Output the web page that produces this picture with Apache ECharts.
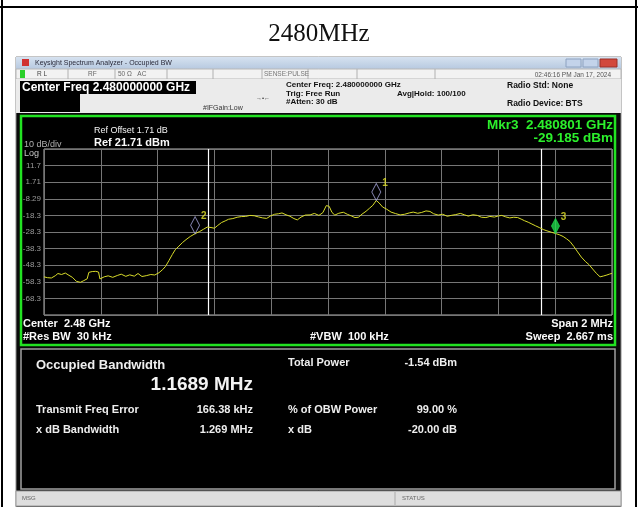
<!DOCTYPE html>
<html><head><meta charset="utf-8">
<script src="https://cdn.jsdelivr.net/npm/echarts@6/dist/echarts.min.js"></script>
<style>html,body{margin:0;padding:0;background:#fff}#c{width:638px;height:507px}</style>
</head><body><div id="c"></div>
<script>
// ---- data ----
const REF_LEVEL = 21.71;           // dBm, top of the graticule
const DB_PER_DIV = 10;
const START_MHZ = 2479, STOP_MHZ = 2481;
const yTickLabels = ['11.7','1.71','-8.29','-18.3','-28.3','-38.3','-48.3','-58.3','-68.3'];
const freqMHz = [
2479.000,2479.012,2479.026,2479.040,2479.049,2479.062,2479.075,2479.088,2479.100,2479.114,
2479.128,2479.140,2479.152,2479.158,2479.170,2479.182,2479.192,2479.197,2479.212,2479.226,
2479.242,2479.258,2479.272,2479.288,2479.302,2479.318,2479.331,2479.345,2479.360,2479.376,
2479.390,2479.405,2479.418,2479.428,2479.440,2479.452,2479.462,2479.475,2479.488,2479.500,
2479.515,2479.532,2479.548,2479.562,2479.575,2479.588,2479.600,2479.612,2479.625,2479.638,
2479.650,2479.665,2479.680,2479.695,2479.710,2479.725,2479.740,2479.755,2479.770,2479.784,
2479.798,2479.812,2479.826,2479.838,2479.852,2479.866,2479.880,2479.892,2479.905,2479.920,
2479.937,2479.952,2479.968,2479.982,2479.994,2480.004,2480.014,2480.024,2480.038,2480.054,
2480.068,2480.082,2480.095,2480.107,2480.120,2480.134,2480.146,2480.158,2480.170,2480.180,
2480.192,2480.207,2480.222,2480.238,2480.254,2480.270,2480.286,2480.300,2480.316,2480.330,
2480.345,2480.359,2480.372,2480.388,2480.404,2480.420,2480.436,2480.450,2480.466,2480.480,
2480.494,2480.510,2480.526,2480.540,2480.556,2480.570,2480.586,2480.600,2480.612,2480.626,
2480.640,2480.654,2480.668,2480.680,2480.692,2480.705,2480.718,2480.730,2480.744,2480.758,
2480.771,2480.786,2480.801,2480.814,2480.828,2480.840,2480.852,2480.866,2480.879,2480.892,
2480.906,2480.920,2480.932,2480.945,2480.958,2480.970,2480.982,2480.992,2481.000];
const levelDbm = [
-55.3,-55.8,-56.0,-54.6,-53.3,-53.9,-53.0,-54.4,-55.6,-58.0,
-58.6,-57.6,-56.5,-52.6,-52.1,-52.0,-52.4,-56.6,-55.3,-54.7,
-55.6,-54.5,-53.7,-55.0,-54.1,-54.9,-53.3,-55.1,-54.6,-53.9,
-54.2,-52.8,-50.9,-49.0,-45.5,-41.8,-39.0,-36.8,-34.6,-32.9,
-31.0,-29.3,-28.0,-26.6,-25.3,-25.6,-26.0,-24.3,-22.6,-21.6,
-20.6,-20.2,-19.4,-19.0,-18.9,-18.3,-18.5,-19.2,-19.8,-20.1,
-18.6,-17.6,-17.3,-16.8,-17.9,-18.8,-20.2,-21.0,-19.3,-18.1,
-18.0,-17.1,-18.3,-16.6,-12.4,-12.8,-16.5,-18.1,-17.0,-16.4,
-17.6,-18.6,-19.6,-19.4,-17.5,-15.8,-14.0,-12.2,-9.3,-10.8,
-13.2,-14.6,-16.3,-17.2,-18.0,-17.6,-16.8,-16.3,-17.0,-16.5,
-15.6,-15.9,-17.3,-18.1,-17.6,-18.8,-18.2,-17.8,-17.1,-17.9,
-18.7,-17.9,-18.3,-19.4,-19.6,-18.9,-19.3,-18.6,-18.3,-19.2,
-19.8,-19.4,-19.6,-20.5,-21.5,-22.4,-23.5,-24.5,-25.6,-26.8,
-27.6,-28.4,-29.2,-29.9,-31.0,-32.4,-34.0,-37.1,-40.3,-43.4,
-46.0,-48.1,-50.6,-53.2,-55.3,-54.8,-54.2,-53.6,-53.2];
const markerNames = ['1','2','3'];
const markerFreq  = [2480.170, 2479.532, 2480.801];
const markerLevel = [-9.3, -29.3, -29.185];
const obwEdgesMHz = [2479.582, 2480.751];

// ---- chart ----
const chart = echarts.init(document.getElementById('c'), null, {renderer:'canvas'});
const rel = v => v - REF_LEVEL;
const traceData = freqMHz.map((f,i)=>[f, rel(levelDbm[i])]);
const markerData = markerNames.map((n,i)=>{
  const filled = n === '3';
  return {
    value:[markerFreq[i], rel(markerLevel[i])], name:n,
    symbolSize: filled ? [8,15] : [9,17],
    symbolOffset: [0, '-50%'],
    itemStyle: filled ? {color:'#1fd74a', borderColor:'#1fd74a', borderWidth:1}
                      : {color:'rgba(0,0,0,0)', borderColor:'#a4a4d8', borderWidth:1}
  };
});

const SANS = '"Liberation Sans", Arial, sans-serif';
function T(x,y,text,size,fill,opts){
  opts = opts||{};
  return {type:'text', z:100, silent:true, style:{x:x,y:y,text:text,
    font:(opts.bold?'bold ':'')+size+'px '+(opts.family||SANS), fill:fill,
    align:opts.align||'left', verticalAlign:'middle'}};
}
function R(x,y,w,h,fill,stroke,lw,z){
  return {type:'rect', z:(z===undefined?-10:z), silent:true, shape:{x:x,y:y,width:w,height:h},
    style:{fill:fill, stroke:stroke||null, lineWidth:lw||0}};
}
function L(x1,y1,x2,y2,stroke,lw,z){
  return {type:'line', z:(z===undefined?-5:z), silent:true, shape:{x1:x1,y1:y1,x2:x2,y2:y2},
    style:{stroke:stroke, lineWidth:lw||1}};
}

const graphics = [
  // table cell borders
  L(0,7,638,7,'#000',2,-5), L(2,0,2,507,'#000',2,-5), L(636,0,636,507,'#000',2,-5),
  // analyzer window
  R(16,57,605,450,'#0b0b0b','#8a8a8a',1,-20),
  R(16,57,605,12,{type:'linear',x:0,y:0,x2:0,y2:1,colorStops:[{offset:0,color:'#d6e2f0'},{offset:1,color:'#b7c9e0'}]},null,0,-19),
  R(22,59,7,7,'#d03030',null,0,-18),
  R(566,59,15,8,'#c3d3ea','#8da2c0',1,-18), R(583,59,15,8,'#c3d3ea','#8da2c0',1,-18), R(600,59,17,8,'#d2483c','#9a3028',1,-18),
  R(16,69,605,10,'#f2f2f2','#b8b8b8',1,-19),
  R(20,70,5,8,'#2ad02a',null,0,-18),
  L(68,69,68,79,'#b0b0b0',1,-18), L(115,69,115,79,'#b0b0b0',1,-18), L(167,69,167,79,'#b0b0b0',1,-18),
  L(213,69,213,79,'#b0b0b0',1,-18), L(262,69,262,79,'#b0b0b0',1,-18), L(308,69,308,79,'#b0b0b0',1,-18),
  L(357,69,357,79,'#b0b0b0',1,-18), L(435,69,435,79,'#b0b0b0',1,-18),
  R(16,79,605,34,'#ebebeb',null,0,-19),
  R(20,81,176,13,'#000',null,0,-18),
  R(20,94,60,18,'#000',null,0,-18),
  // plot panel
  R(21,116,594,229,'#000','#22e322',2.5,-15),
  // results panel
  R(21,349,594,140,'#000','#a0a0a0',1.5,-15),
  // status bar
  R(16,491,605,15,'#dedede','#9c9c9c',1,-15),
  L(395,492,395,505,'#aaa',1,-14),

  // cell title
  T(319,34,'2480MHz',25,'#111',{family:'"Liberation Serif", "Times New Roman", serif', align:'center'}),
  // window title & status row
  T(35,63.5,'Keysight Spectrum Analyzer - Occupied BW',7,'#2a2a3a'),
  T(37,74.5,'R L',6.5,'#444'), T(88,74.5,'RF',6.5,'#666'), T(118,74.5,'50 Ω   AC',6.5,'#666'),
  T(264,74.5,'SENSE:PULSE',6.5,'#777'),
  T(611,75,'02:46:16 PM Jan 17, 2024',6.5,'#555',{align:'right'}),
  // info panel
  T(22,87.5,'Center Freq 2.480000000 GHz',12,'#fff',{bold:true}),
  T(203,108,'#IFGain:Low',7,'#333'),
  T(263,98,'→•←',6,'#333',{align:'center'}),
  T(286,85,'Center Freq: 2.480000000 GHz',8,'#111',{bold:true}),
  T(286,93.5,'Trig: Free Run',8,'#111',{bold:true}),
  T(286,102,'#Atten: 30 dB',8,'#111',{bold:true}),
  T(397,93.5,'Avg|Hold: 100/100',8,'#111',{bold:true}),
  T(507,86,'Radio Std: None',8.5,'#111',{bold:true}),
  T(507,104,'Radio Device: BTS',8.5,'#111',{bold:true}),
  // plot annotations
  T(94,131,'Ref Offset 1.71 dB',9,'#f2f2f2'),
  T(94,142.5,'Ref 21.71 dBm',11,'#fafafa',{bold:true}),
  T(24,145,'10 dB/div',9,'#b0b0b0'),
  T(24,154,'Log',9,'#c8c8c8'),
  T(613,125,'Mkr3  2.480801 GHz',13.5,'#2cf02c',{bold:true,align:'right'}),
  T(613,138,'-29.185 dBm',13.5,'#2cf02c',{bold:true,align:'right'}),
  T(23,324,'Center  2.48 GHz',11,'#fafafa',{bold:true}),
  T(23,336.5,'#Res BW  30 kHz',11,'#fafafa',{bold:true}),
  T(310,336.5,'#VBW  100 kHz',11,'#fafafa',{bold:true}),
  T(613,324,'Span 2 MHz',11,'#fafafa',{bold:true,align:'right'}),
  T(613,336.5,'Sweep  2.667 ms',11,'#fafafa',{bold:true,align:'right'}),
  // results
  T(36,365.5,'Occupied Bandwidth',13,'#eeeeee',{bold:true}),
  T(253,384.5,'1.1689 MHz',19,'#f4f4f4',{bold:true,align:'right'}),
  T(36,409.5,'Transmit Freq Error',11,'#eeeeee',{bold:true}),
  T(253,409.5,'166.38 kHz',11,'#eeeeee',{bold:true,align:'right'}),
  T(36,430,'x dB Bandwidth',11,'#eeeeee',{bold:true}),
  T(253,430,'1.269 MHz',11,'#eeeeee',{bold:true,align:'right'}),
  T(288,362.5,'Total Power',11,'#eeeeee',{bold:true}),
  T(457,362.5,'-1.54 dBm',11,'#eeeeee',{bold:true,align:'right'}),
  T(288,409.5,'% of OBW Power',11,'#eeeeee',{bold:true}),
  T(457,409.5,'99.00 %',11,'#eeeeee',{bold:true,align:'right'}),
  T(288,430,'x dB',11,'#eeeeee',{bold:true}),
  T(457,430,'-20.00 dB',11,'#eeeeee',{bold:true,align:'right'}),
  T(22,498.5,'MSG',6,'#666'),
  T(402,498.5,'STATUS',6,'#666')
];

chart.setOption({
  animation:false,
  backgroundColor:'#fff',
  graphic: graphics,
  grid:{left:44, top:149, width:568, height:166, show:true, borderColor:'#b4b4b4', borderWidth:1, backgroundColor:'transparent'},
  xAxis:{type:'value', min:START_MHZ, max:STOP_MHZ, interval:0.2,
    axisLabel:{show:false}, axisTick:{show:false}, axisLine:{show:false},
    splitLine:{show:true, lineStyle:{color:'#767676', width:1}}},
  yAxis:{type:'value', min:-10*DB_PER_DIV, max:0, interval:DB_PER_DIV,
    axisTick:{show:false}, axisLine:{show:false},
    splitLine:{show:true, lineStyle:{color:'#767676', width:1}},
    axisLabel:{show:true, margin:3, color:'#9a9a9a', fontSize:8, fontFamily:SANS,
      formatter:function(v){ const k = Math.round(-v/DB_PER_DIV)-1; return (k>=0 && k<yTickLabels.length)? yTickLabels[k] : ''; }}},
  series:[
    {type:'line', data:traceData, showSymbol:false, symbol:'none', z:5,
      lineStyle:{color:'#d9dc2a', width:1}, itemStyle:{color:'#d9dc2a'},
      markLine:{silent:true, symbol:['none','none'], label:{show:false},
        lineStyle:{color:'#ffffff', width:1.2, type:'solid'},
        data: obwEdgesMHz.map(f=>({xAxis:f}))}},
    {type:'scatter', data:markerData, symbol:'diamond', z:10,
      label:{show:true, formatter:'{b}', position:'right', distance:1, offset:[0,-9],
        color:'#e6e62a', fontSize:10, fontWeight:'bold', fontFamily:SANS}}
  ]
});
</script>
</body></html>
